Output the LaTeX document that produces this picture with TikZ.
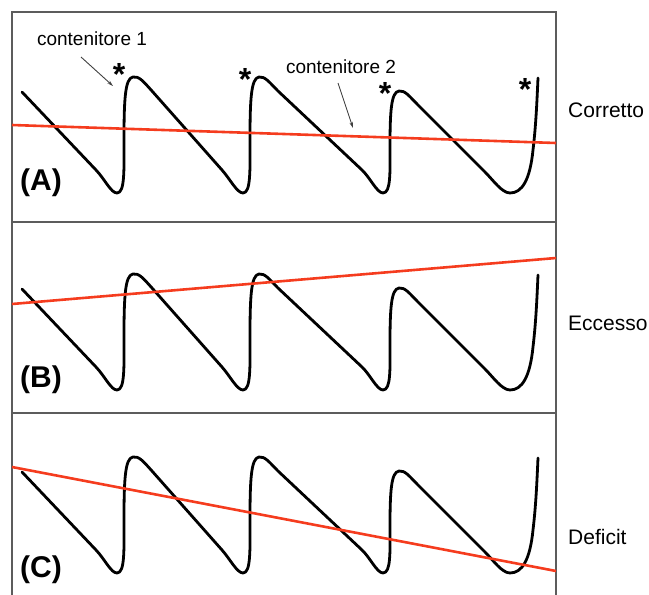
\documentclass[tikz,border=0pt]{standalone}
\usepackage{fontspec}
\setmainfont{Liberation Sans}
\usepackage{xcolor}
\usepackage{tikz}
\usetikzlibrary{arrows.meta}

\definecolor{levelred}{HTML}{F53C1E}
\definecolor{framegray}{HTML}{5C5C5C}

\begin{document}
\begin{tikzpicture}[x=1pt,y=-1pt,
    frame/.style={draw=framegray,line width=1.6pt},
    wave/.style={draw=black,line width=2.8pt,line cap=round,line join=round},
    level/.style={draw=levelred,line width=2.6pt},
    pointer/.style={draw=black!75,line width=0.9pt,-{Stealth[length=6pt,width=3.5pt]}},
    tag/.style={font=\fontsize{30}{32}\selectfont\bfseries,inner sep=0pt},
    verdict/.style={anchor=west,inner sep=0pt,font=\fontsize{21}{24}\selectfont},
    callout/.style={inner sep=0pt,font=\fontsize{19}{22}\selectfont},
    starmark/.style={inner sep=0pt,font=\fontsize{32}{34}\selectfont\bfseries}]
    \useasboundingbox (0,0) rectangle (649,595);

    % frame and panel separators
    \draw[frame] (12,597) -- (12,12) -- (556,12) -- (556,597);
    \draw[frame] (12,222) -- (556,222);
    \draw[frame] (12,413) -- (556,413);

    \newcommand{\drawwave}[1]{%
        \draw[wave,shift={(0,#1)}] (22,92) -- (96,170)
            .. controls (105,179.5) and (111,193) .. (117,193)
            .. controls (125,193) and (124,170) .. (124,140)
            .. controls (124,100) and (125,78) .. (133,77)
            .. controls (139,76) and (143,81) .. (152,91)
            -- (222,170)
            .. controls (230,179) and (237,193) .. (243,193)
            .. controls (251,193) and (250,170) .. (250,140)
            .. controls (250,100) and (251,78) .. (259,77)
            .. controls (265,76) and (270,83) .. (278,91)
            -- (362,170)
            .. controls (370,177.5) and (377,193) .. (383,193)
            .. controls (391,193) and (390,172) .. (390,148)
            .. controls (390,112) and (391,92) .. (399,91)
            .. controls (405,90) and (410,97) .. (418,105)
            -- (485,172)
            .. controls (493,180) and (502,193) .. (510,193)
            .. controls (522,193) and (530,180) .. (533,150)
            .. controls (536,125) and (537,100) .. (538,78);
    }

    \foreach \panel/\dy/\ya/\yb/\tagy/\verdict/\vy in
        {A/0/125/143/183/Corretto/110,
         B/197/304/258/380/Eccesso/323,
         C/380/467/571/570/Deficit/537} {
        \drawwave{\dy}
        \draw[level] (12,\ya) -- (556,\yb);
        \node[tag] (tag\panel) at (41,\tagy) {(\panel)};
        \node[verdict] (verdict\panel) at (568,\vy) {\verdict};
    }

    % asterisks on the peaks of panel A
    \foreach [count=\i] \sx/\sy in {119/74, 245/79, 385/93, 525/89} {
        \node[starmark] (star\i) at (\sx,\sy) {*};
    }

    \node[callout] (box1) at (92,39) {contenitore 1};
    \node[callout] (box2) at (341,67) {contenitore 2};
    \coordinate (tail1) at (81,57);
    \coordinate (tip1) at (113,86);
    \coordinate (tail2) at (338,83);
    \coordinate (tip2) at (353,128);
    \draw[pointer] (tail1) -- (tip1);
    \draw[pointer] (tail2) -- (tip2);
\end{tikzpicture}
\end{document}
